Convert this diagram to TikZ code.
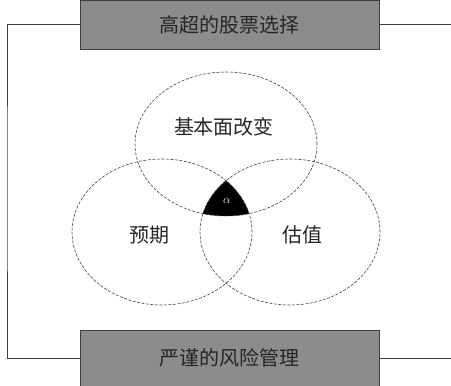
\documentclass[tikz,border=0pt]{standalone}
\usepackage{fontspec}
\newfontfamily\cjk{Noto Sans CJK SC}
\usetikzlibrary{positioning}

\tikzset{
  bar/.style={draw=black!75, fill=black!45, minimum width=299pt, inner sep=0pt, outer sep=0pt, font=\cjk\fontsize{20}{24}\selectfont, text=black!85},
  ring/.style={draw=black!80, dash pattern=on 3pt off 1.5pt, line width=0.55pt},
  word/.style={font=\cjk\fontsize{20}{24}\selectfont, text=black!85}
}

\begin{document}
\begin{tikzpicture}[x=1pt,y=1pt]
\useasboundingbox (0,0) rectangle (451,386);

\node[bar, minimum height=49pt] (pick) at (229.5,361.5) {高超的股票选择};
\node[bar, minimum height=56pt] (risk) at (229.5,28) {严谨的风险管理};

% frame round the circles
\coordinate (lft) at (7,200);
\coordinate (rgt) at (451,200);
\draw[black!75, line width=0.6pt] (pick.west) -| (lft) |- (risk.west);
\draw[black!75, line width=0.6pt] (pick.east) -- (pick.east -| rgt);
\draw[black!75, line width=0.6pt] (risk.east) -- (risk.east -| rgt);

% the three sets
\begin{scope}
\clip (226,242) ellipse [x radius=91pt, y radius=72pt];
\clip (162,154) ellipse [x radius=90pt, y radius=73pt];
\fill[black] (290,154) ellipse [x radius=90pt, y radius=73pt];
\end{scope}
\draw[ring] (226,242) ellipse [x radius=91pt, y radius=72pt];
\draw[ring] (162,154) ellipse [x radius=90pt, y radius=73pt];
\draw[ring] (290,154) ellipse [x radius=90pt, y radius=73pt];

\node[word] (fund) at (224,259) {基本面改变};
\node[word] (expc) at (149,151) {预期};
\node[word] (valu) at (302,151) {估值};
\node[text=white, font=\large] (alpha) at (227,185) {$\alpha$};

\end{tikzpicture}
\end{document}
